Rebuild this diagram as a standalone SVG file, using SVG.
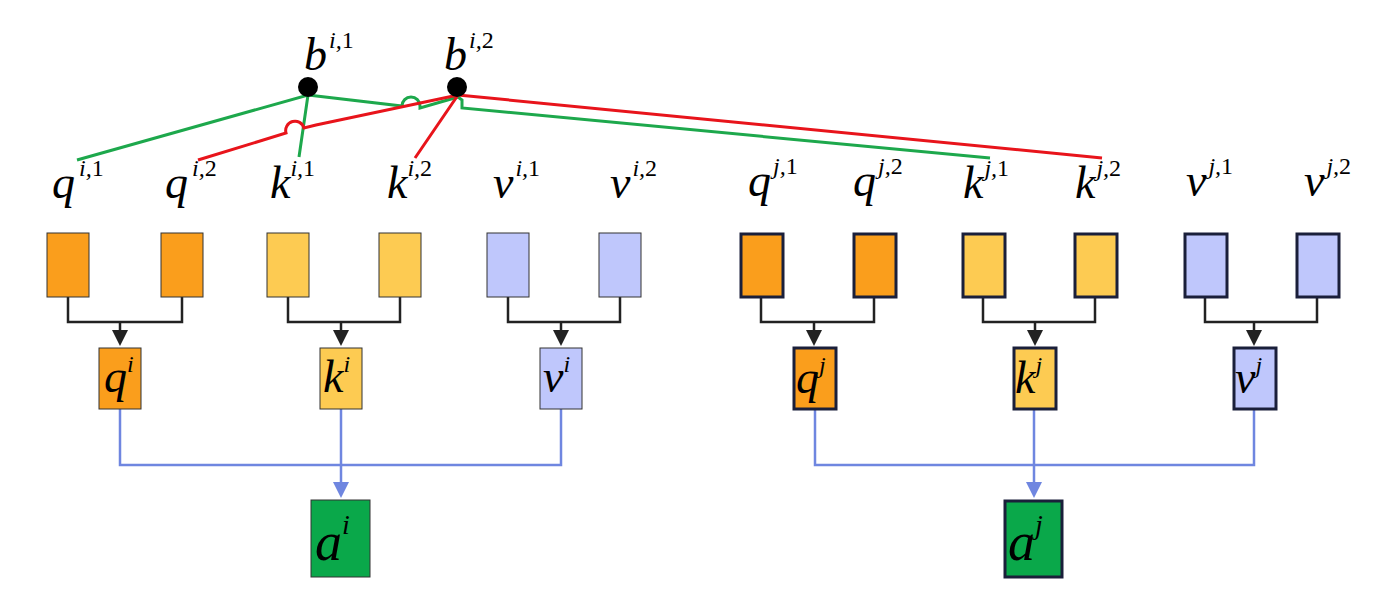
<svg xmlns="http://www.w3.org/2000/svg" width="1391" height="602" viewBox="0 0 1391 602">
<style>
.t{font-family:"Liberation Serif","Times New Roman","DejaVu Serif",serif;font-style:italic;font-size:46px;fill:#000}
.s{font-size:24px}
.n{font-style:normal}
.q{fill:#FA9E1C}.k{fill:#FDCB52}.v{fill:#BFC7FC}.a{fill:#0AA84A}
.l{stroke:#333;stroke-width:1}
.r{stroke:#1a1f3a;stroke-width:3}
.bk{fill:none;stroke:#222;stroke-width:2.5}
.bl{fill:none;stroke:#6F86E0;stroke-width:2.5}
</style>
<defs>
<marker id="ab" markerWidth="16" markerHeight="16" refX="2" refY="8" orient="auto" markerUnits="userSpaceOnUse" viewBox="0 0 16 16"><path d="M0,0L16,8L0,16z" fill="#222"/></marker>
<marker id="bb" markerWidth="16" markerHeight="16" refX="2" refY="8" orient="auto" viewBox="0 0 16 16" markerUnits="userSpaceOnUse"><path d="M0,0L16,8L0,16z" fill="#6F86E0"/></marker>
</defs>
<rect width="1391" height="602" fill="#fff"/>
<g id="connectors">
<g fill="none" stroke-width="3">
<path d="M77,160L308,95L299,157" stroke="#1DA84C"/>
<path d="M308,95L402,106A9,9 0 0 1 420,106L420,108L458,97L462,100L462,108L990,158" stroke="#1DA84C"/>
<path d="M198,160L286,133A9,9 0 0 1 304,128L316,125L458,95L415,158" stroke="#E8141B"/>
<path d="M458,95L1102,158" stroke="#E8141B"/>
</g>
<path class="bk" d="M68,297V322H182V297M120,322V332" marker-end="url(#ab)"/>
<path class="bk" d="M288,297V322H400V297M341,322V332" marker-end="url(#ab)"/>
<path class="bk" d="M508,297V322H620V297M561,322V332" marker-end="url(#ab)"/>
<path class="bk" d="M761,298V322H874V298M814,322V332" marker-end="url(#ab)"/>
<path class="bk" d="M983,298V322H1095V298M1035,322V332" marker-end="url(#ab)"/>
<path class="bk" d="M1205,298V322H1317V298M1254,322V332" marker-end="url(#ab)"/>
<path class="bl" d="M120,409V465H561V409M341,409V484" marker-end="url(#bb)"/>
<path class="bl" d="M815,410V465H1254V410M1034,410V484" marker-end="url(#bb)"/>
</g>
<g id="b1"><circle cx="308" cy="87" r="10"/><text class="t" x="304" y="70">b<tspan class="s" dy="-22" dx="2">i,<tspan class="n">1</tspan></tspan></text></g>
<g id="b2"><circle cx="457" cy="87" r="10"/><text class="t" x="444" y="70">b<tspan class="s" dy="-22" dx="2">i,<tspan class="n">2</tspan></tspan></text></g>
<g id="labels">
<text class="t" x="52" y="198">q<tspan class="s" dy="-22" dx="4">i,<tspan class="n">1</tspan></tspan></text>
<text class="t" x="165" y="198">q<tspan class="s" dy="-22" dx="4">i,<tspan class="n">2</tspan></tspan></text>
<text class="t" x="270" y="198">k<tspan class="s" dy="-22" dx="0">i,<tspan class="n">1</tspan></tspan></text>
<text class="t" x="387" y="198">k<tspan class="s" dy="-22" dx="0">i,<tspan class="n">2</tspan></tspan></text>
<text class="t" x="493" y="198">v<tspan class="s" dy="-22" dx="2">i,<tspan class="n">1</tspan></tspan></text>
<text class="t" x="610" y="198">v<tspan class="s" dy="-22" dx="2">i,<tspan class="n">2</tspan></tspan></text>
<text class="t" x="748" y="196">q<tspan class="s" dy="-22" dx="2">j,<tspan class="n">1</tspan></tspan></text>
<text class="t" x="853" y="196">q<tspan class="s" dy="-22" dx="2">j,<tspan class="n">2</tspan></tspan></text>
<text class="t" x="963" y="198">k<tspan class="s" dy="-22" dx="1">j,<tspan class="n">1</tspan></tspan></text>
<text class="t" x="1075" y="198">k<tspan class="s" dy="-22" dx="1">j,<tspan class="n">2</tspan></tspan></text>
<text class="t" x="1186" y="196">v<tspan class="s" dy="-22" dx="2">j,<tspan class="n">1</tspan></tspan></text>
<text class="t" x="1304" y="196">v<tspan class="s" dy="-22" dx="2">j,<tspan class="n">2</tspan></tspan></text>
</g>
<g id="qi1"><rect class="q l" x="47" y="233" width="42" height="64"/></g>
<g id="qi2"><rect class="q l" x="161" y="233" width="42" height="64"/></g>
<g id="ki1"><rect class="k l" x="267" y="233" width="42" height="64"/></g>
<g id="ki2"><rect class="k l" x="379" y="233" width="42" height="64"/></g>
<g id="vi1"><rect class="v l" x="487" y="233" width="42" height="64"/></g>
<g id="vi2"><rect class="v l" x="599" y="233" width="42" height="64"/></g>
<g id="qj1"><rect class="q r" x="741" y="234" width="42" height="63"/></g>
<g id="qj2"><rect class="q r" x="854" y="234" width="42" height="63"/></g>
<g id="kj1"><rect class="k r" x="963" y="234" width="42" height="63"/></g>
<g id="kj2"><rect class="k r" x="1075" y="234" width="42" height="63"/></g>
<g id="vj1"><rect class="v r" x="1185" y="234" width="42" height="63"/></g>
<g id="vj2"><rect class="v r" x="1297" y="234" width="42" height="63"/></g>
<g id="qi"><rect class="q l" x="99" y="348" width="42" height="61"/><text class="t" x="104" y="392">q<tspan class="s" dy="-20" dx="0">i</tspan></text></g>
<g id="ki"><rect class="k l" x="320" y="348" width="42" height="61"/><text class="t" x="323" y="392">k<tspan class="s" dy="-20" dx="0">i</tspan></text></g>
<g id="vi"><rect class="v l" x="540" y="348" width="42" height="61"/><text class="t" x="543" y="392">v<tspan class="s" dy="-20" dx="0">i</tspan></text></g>
<g id="qj"><rect class="q r" x="794" y="348" width="42" height="61"/><text class="t" x="796" y="393">q<tspan class="s" dy="-20" dx="0">j</tspan></text></g>
<g id="kj"><rect class="k r" x="1014" y="348" width="42" height="61"/><text class="t" x="1015" y="393">k<tspan class="s" dy="-20" dx="0">j</tspan></text></g>
<g id="vj"><rect class="v r" x="1234" y="348" width="42" height="61"/><text class="t" x="1235" y="393">v<tspan class="s" dy="-20" dx="0">j</tspan></text></g>
<g id="ai"><rect class="a l" x="311" y="500" width="59" height="77"/><text class="t" x="315" y="560" style="font-size:54px">a<tspan class="s" style="font-size:28px" dy="-26" dx="0">i</tspan></text></g>
<g id="aj"><rect class="a r" x="1005" y="501" width="57" height="76"/><text class="t" x="1008" y="560" style="font-size:54px">a<tspan class="s" style="font-size:28px" dy="-26" dx="0">j</tspan></text></g>
</svg>
